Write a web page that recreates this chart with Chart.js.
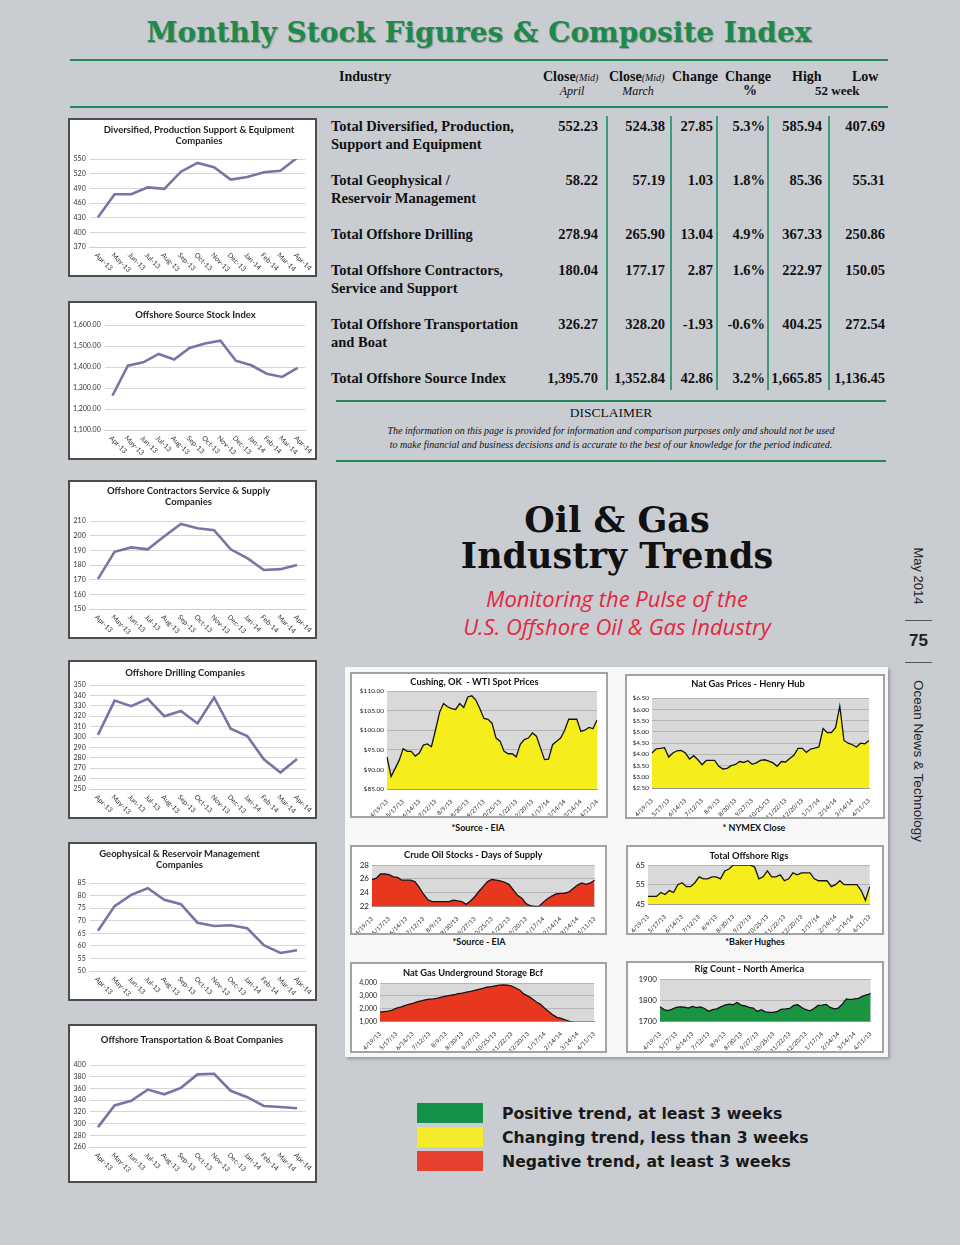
<!DOCTYPE html>
<html>
<head>
<meta charset="utf-8">
<title>Oil &amp; Gas Industry Trends</title>
<script src="https://cdn.jsdelivr.net/npm/chart.js@4.4.1/dist/chart.umd.min.js"></script>
<style>
  body { margin:0; width:960px; height:1245px; background:#c9ccd1; position:relative; overflow:hidden; font-family:'Liberation Serif', serif; color:#111; }
  .a { position:absolute; white-space:nowrap; }
  .rule { position:absolute; background:#23875a; }
  .box { position:absolute; box-sizing:border-box; background:#fff; }
  .lbox { border:2px solid #4d4d4d; }
  .rbox { border:2px solid #a3a3a3; }
  .ltitle { position:absolute; width:300px; text-align:center; font:bold 9.5px/11.4px Lato, sans-serif; color:#1e1e1e; white-space:nowrap; }
  .cap { position:absolute; font:bold 9px Lato, sans-serif; color:#111; transform:translateX(-50%); white-space:nowrap; }
  .hd { position:absolute; font:bold 14px 'Liberation Serif', serif; white-space:nowrap; }
  .hd i { font-weight:normal; font-size:10px; }
  .sub { position:absolute; font:italic 12px 'Liberation Serif', serif; white-space:nowrap; transform:translateX(-50%); }
  .cell { position:absolute; font:bold 14.5px/18px 'Liberation Serif', serif; white-space:nowrap; text-align:right; }
  .name { position:absolute; font:bold 14.5px/18px 'Liberation Serif', serif; white-space:nowrap; }
  .vline { position:absolute; width:1.5px; background:#3a9c78; }
  .side { position:absolute; white-space:nowrap; font:13px 'Liberation Sans', sans-serif; color:#222; transform:translate(-50%,-50%) rotate(90deg); }
  .key { position:absolute; left:417px; width:66px; height:20px; }
  .keyt { position:absolute; left:502px; font:bold 15.7px 'DejaVu Sans', sans-serif; color:#1a1a1a; white-space:nowrap; }
</style>
</head>
<body>

<div class="a" style="left:0;width:958px;top:16px;text-align:center;font:bold 28px 'DejaVu Serif',serif;color:#1d8a4c;text-shadow:1px 1px 1px rgba(0,0,0,.25)">Monthly Stock Figures &amp; Composite Index</div>
<div class="rule" style="left:70px;top:59px;width:818px;height:2px"></div>
<div class="rule" style="left:70px;top:106px;width:818px;height:2px"></div>

<div class="hd" style="left:339px;top:69px">Industry</div>
<div class="hd" style="left:543px;top:69px">Close<i>(Mid)</i></div>
<div class="sub" style="left:572px;top:84px">April</div>
<div class="hd" style="left:609px;top:69px">Close<i>(Mid)</i></div>
<div class="sub" style="left:638px;top:84px">March</div>
<div class="hd" style="left:672px;top:69px">Change</div>
<div class="hd" style="left:725px;top:69px">Change</div>
<div class="hd" style="left:743px;top:83px">%</div>
<div class="hd" style="left:792px;top:69px">High</div>
<div class="hd" style="left:852px;top:69px">Low</div>
<div class="hd" style="left:815px;top:83px;font-size:13px">52 week</div>

<div id="table"></div>

<div class="rule" style="left:336px;top:400px;width:550px;height:2px"></div>
<div class="a" style="left:336px;width:550px;top:405px;text-align:center;font:13.5px 'Liberation Serif',serif">DISCLAIMER</div>
<div class="a" style="left:336px;width:550px;top:424px;text-align:center;font:italic 10px 'Liberation Serif',serif;line-height:14px">The information on this page is provided for information and comparison purposes only and should not be used<br>to make financial and business decisions and is accurate to the best of our knowledge for the period indicated.</div>
<div class="rule" style="left:336px;top:460px;width:550px;height:2px"></div>

<div class="box lbox" style="left:68px;top:118px;width:249px;height:159px"><canvas id="c1"></canvas></div>
<div class="box lbox" style="left:68px;top:301px;width:249px;height:159px"><canvas id="c2"></canvas></div>
<div class="box lbox" style="left:68px;top:480px;width:249px;height:159px"><canvas id="c3"></canvas></div>
<div class="box lbox" style="left:68px;top:660px;width:249px;height:159px"><canvas id="c4"></canvas></div>
<div class="box lbox" style="left:68px;top:842px;width:249px;height:159px"><canvas id="c5"></canvas></div>
<div class="box lbox" style="left:68px;top:1024px;width:249px;height:159px"><canvas id="c6"></canvas></div>

<div class="ltitle" style="left:49px;top:124px">Diversified, Production Support &amp; Equipment<br>Companies</div>
<div class="ltitle" style="left:45.5px;top:309px">Offshore Source Stock Index</div>
<div class="ltitle" style="left:38.5px;top:485px">Offshore Contractors Service &amp; Supply<br>Companies</div>
<div class="ltitle" style="left:35px;top:666.5px">Offshore Drilling Companies</div>
<div class="ltitle" style="left:29.5px;top:848px">Geophysical &amp; Reservoir Management<br>Companies</div>
<div class="ltitle" style="left:42px;top:1034px">Offshore Transportation &amp; Boat Companies</div>

<div class="a" style="left:400px;width:434px;top:502px;text-align:center;font:bold 35px/36px 'DejaVu Serif',serif;color:#111">Oil &amp; Gas<br>Industry Trends</div>
<div class="a" style="left:400px;width:434px;top:584px;text-align:center;font:italic 22px/28px 'Open Sans',sans-serif;color:#e5273d">Monitoring the Pulse of the<br>U.S. Offshore Oil &amp; Gas Industry</div>

<div class="side" style="left:918px;top:576px">May 2014</div>
<div class="a" style="left:905px;top:620px;width:27px;height:1px;background:#555"></div>
<div class="a" style="left:905px;top:631px;width:27px;text-align:center;font:bold 17px 'Liberation Sans',sans-serif;color:#222">75</div>
<div class="a" style="left:905px;top:662px;width:27px;height:1px;background:#555"></div>
<div class="side" style="left:918px;top:761px;font-size:13.5px">Ocean News &amp; Technology</div>

<div class="a" style="left:345px;top:667px;width:543px;height:390px;background:#f7f7f7;box-shadow:2px 2px 3px rgba(0,0,0,.25)"></div>
<div class="box rbox" style="left:350px;top:672px;width:258px;height:146px"><canvas id="r1"></canvas></div>
<div class="box rbox" style="left:625px;top:674px;width:260px;height:145px"><canvas id="r2"></canvas></div>
<div class="cap" style="left:478px;top:822px">*Source - EIA</div>
<div class="cap" style="left:754px;top:822px">* NYMEX Close</div>
<div class="box rbox" style="left:350px;top:845px;width:257px;height:90px"><canvas id="r3"></canvas></div>
<div class="box rbox" style="left:626px;top:845px;width:258px;height:90px"><canvas id="r4"></canvas></div>
<div class="cap" style="left:479px;top:936px">*Source - EIA</div>
<div class="cap" style="left:755px;top:936px">*Baker Hughes</div>
<div class="box rbox" style="left:350px;top:962px;width:257px;height:91px"><canvas id="r5"></canvas></div>
<div class="box rbox" style="left:626px;top:961px;width:258px;height:92px"><canvas id="r6"></canvas></div>

<div class="key" style="top:1103px;background:#13924a"></div>
<div class="key" style="top:1127px;background:#f4ec2b"></div>
<div class="key" style="top:1151px;background:#e8402e"></div>
<div class="keyt" style="top:1104px">Positive trend, at least 3 weeks</div>
<div class="keyt" style="top:1128px">Changing trend, less than 3 weeks</div>
<div class="keyt" style="top:1152px">Negative trend, at least 3 weeks</div>

<script>
// monthly stock index charts (Apr-13 .. Apr-14)
const months = ['Apr-13','May-13','Jun-13','Jul-13','Aug-13','Sep-13','Oct-13','Nov-13','Dec-13','Jan-14','Feb-14','Mar-14','Apr-14'];
const diversified = [431, 478, 478, 492, 489, 524, 542, 533, 508, 513, 523, 526, 552.23];
const sourceIndex = [1263, 1406, 1422, 1462, 1436, 1491, 1512, 1525, 1430, 1408, 1368, 1352.84, 1395.70];
const contractors = [170.5, 189, 192, 190.7, 199.6, 208, 205, 203.7, 190.7, 184.7, 176.6, 177.17, 180.04];
const drilling = [302, 335, 329.7, 336.7, 320, 325, 313, 338, 308, 301, 278.5, 265.9, 278.94];
const geophysical = [66, 75.8, 80.3, 82.9, 78.3, 76.6, 69.2, 67.9, 68.2, 67, 60.3, 57.19, 58.22];
const transport = [294, 331, 339, 358, 350, 361, 384, 385, 356, 345, 330, 328.2, 326.27];

// weekly trend charts
const weekTicks = ['4/19/13','5/17/13','6/14/13','7/12/13','8/9/13','8/30/13','9/27/13','10/25/13','11/22/13','12/20/13','1/17/14','2/14/14','3/14/14','4/11/13'];
const wtiTicks = ['4/19/13','5/17/13','6/14/13','7/12/13','8/9/13','8/30/13','9/27/13','10/25/13','11/22/13','12/20/13','1/17/14','2/14/14','3/14/14','4/11/14'];
const wtiSpot = [93.2,88.2,90.2,92.3,95.3,94.6,94.6,93.4,94.2,96.2,96.5,95.8,100.0,104.5,106.8,106.0,105.5,105.3,106.8,105.8,108.5,108.8,107.7,105.5,103.0,102.8,101.8,98.0,97.2,94.6,94.0,94.0,93.2,96.4,97.6,98.0,99.3,98.5,95.5,92.5,92.6,96.3,97.2,98.0,100.0,102.8,102.8,102.8,99.7,100.0,100.7,100.4,102.6];
const henryHub = [4.06,4.25,4.27,4.30,3.88,4.06,4.16,4.18,4.06,3.79,3.94,3.76,3.54,3.73,3.73,3.73,3.47,3.35,3.38,3.50,3.55,3.68,3.64,3.72,3.56,3.62,3.73,3.76,3.70,3.62,3.47,3.68,3.66,3.82,3.96,4.27,4.27,4.09,4.24,4.28,4.33,5.15,4.97,4.97,5.20,6.15,4.62,4.50,4.43,4.33,4.50,4.47,4.62];
const crudeDays = [25.9,26.1,26.7,26.7,26.6,26.3,26.2,25.8,25.8,25.8,25.6,24.8,23.8,23.0,22.7,22.7,22.7,22.7,22.7,22.9,22.8,22.7,22.3,22.8,23.4,24.2,24.9,25.6,25.9,25.8,25.7,25.5,25.2,24.4,23.6,23.2,22.4,22.1,22.0,22.0,22.6,23.1,23.5,23.8,23.9,23.9,24.1,24.6,25.1,25.4,25.2,25.4,25.8];
const offshoreRigs = [49,49,49,51,50,52,51,55,56,54,54,56,59,58,58,59,59,58,62,63,65,65,65,65,65,64,58,59,62,59,59,60,57,58,61,60,61,61,61,58,57,57,57,54,55,57,55,55,55,55,52,47,54];
const gasStorage = [1720,1775,1800,1880,2040,2120,2230,2340,2420,2525,2610,2690,2740,2770,2820,2900,2980,3040,3090,3170,3220,3300,3360,3440,3520,3600,3680,3730,3790,3840,3870,3840,3760,3620,3440,3140,2980,2770,2520,2340,2040,1780,1510,1320,1240,1130,1000,920,850,830,840,870,900];
const rigCountNA = [1770,1757,1752,1759,1767,1770,1769,1764,1772,1766,1770,1762,1749,1757,1760,1770,1778,1783,1780,1791,1778,1774,1767,1764,1748,1756,1746,1743,1743,1748,1759,1760,1762,1777,1780,1767,1756,1751,1762,1777,1778,1782,1767,1760,1764,1783,1808,1805,1808,1811,1821,1828,1833];

// table
const tableRows = [
  [['Total Diversified, Production,', 'Support and Equipment'], '552.23', '524.38', '27.85', '5.3%', '585.94', '407.69'],
  [['Total Geophysical /', 'Reservoir Management'], '58.22', '57.19', '1.03', '1.8%', '85.36', '55.31'],
  [['Total Offshore Drilling'], '278.94', '265.90', '13.04', '4.9%', '367.33', '250.86'],
  [['Total Offshore Contractors,', 'Service and Support'], '180.04', '177.17', '2.87', '1.6%', '222.97', '150.05'],
  [['Total Offshore Transportation', 'and Boat'], '326.27', '328.20', '-1.93', '-0.6%', '404.25', '272.54'],
  [['Total Offshore Source Index'], '1,395.70', '1,352.84', '42.86', '3.2%', '1,665.85', '1,136.45']
];
const rowY = [126, 180, 234, 270, 324, 378];
const colRight = [598, 665, 713, 765, 822, 885];
const colLines = [606, 670, 716, 767, 828];

let html = '';
tableRows.forEach((r, i) => {
  const top = rowY[i] - 9;
  html += '<div class="name" style="left:331px;top:' + top + 'px">' + r[0].join('<br>') + '</div>';
  for (let c = 1; c < r.length; c++) {
    html += '<div class="cell" style="right:' + (960 - colRight[c - 1]) + 'px;top:' + top + 'px">' + r[c] + '</div>';
  }
});
colLines.forEach(x => { html += '<div class="vline" style="left:' + x + 'px;top:116px;height:274px"></div>'; });
document.getElementById('table').innerHTML = html;

// draws the month labels slanting down to the right, like the excel charts
const slantLabels = {
  id: 'slantLabels',
  afterDraw(chart, args, opts) {
    if (!opts.labels) return;
    const xs = chart.scales.x, ctx = chart.ctx, y0 = chart.chartArea.bottom + 7;
    ctx.save();
    ctx.font = '7px Lato';
    ctx.fillStyle = '#333';
    ctx.textAlign = 'left';
    ctx.textBaseline = 'middle';
    opts.labels.forEach((lab, i) => {
      ctx.save();
      ctx.translate(xs.getPixelForTick(i) - 2, y0);
      ctx.rotate(Math.PI / 4);
      ctx.fillText(lab, 0, 0);
      ctx.restore();
    });
    ctx.restore();
  }
};

const plotBg = {
  id: 'plotBg',
  beforeDraw(chart, args, opts) {
    if (!opts.color) return;
    const a = chart.chartArea;
    chart.ctx.save();
    chart.ctx.fillStyle = opts.color;
    chart.ctx.fillRect(a.left, a.top, a.width, a.height);
    chart.ctx.restore();
  }
};

function lineChart(id, values, y, g) {
  new Chart(document.getElementById(id), {
    type: 'line',
    data: {
      labels: months,
      datasets: [{ data: values, borderColor: '#7a74a6', borderWidth: 2.6, pointRadius: 0, tension: 0 }]
    },
    options: {
      animation: false,
      responsive: true,
      maintainAspectRatio: false,
      layout: { padding: { top: g.top, right: g.right } },
      plugins: {
        legend: { display: false },
        tooltip: { enabled: false },
        slantLabels: { labels: months }
      },
      scales: {
        x: {
          offset: true,
          grid: { display: false },
          border: { color: '#cfcfcf' },
          ticks: { display: false },
          afterFit: s => { s.height = g.xh; }
        },
        y: {
          min: y[0], max: y[1],
          ticks: { stepSize: y[2], autoSkip: false, font: { family: 'Lato', size: 7 }, color: '#333', padding: 4, callback: y[3] },
          grid: { color: '#d6d6d6', drawTicks: false },
          border: { display: false },
          afterFit: s => { s.width = g.yw; }
        }
      }
    },
    plugins: [slantLabels]
  });
}

function areaChart(id, title, ticks, values, fillColor, y, g) {
  const labels = values.map((v, i) => (i % 4 === 0 ? ticks[i / 4] : ''));
  new Chart(document.getElementById(id), {
    type: 'line',
    data: {
      labels: labels,
      datasets: [{ data: values, fill: 'start', backgroundColor: fillColor, borderColor: '#141414', borderWidth: 1.3, pointRadius: 0, tension: 0 }]
    },
    options: {
      animation: false,
      responsive: true,
      maintainAspectRatio: false,
      layout: { padding: { right: g.right } },
      plugins: {
        legend: { display: false },
        tooltip: { enabled: false },
        plotBg: { color: '#d9d9d9' },
        title: {
          display: true, text: title, color: '#111',
          font: { family: 'Lato', size: 9.3, weight: 'bold', lineHeight: 1.2 },
          padding: { top: g.tt, bottom: g.tb }
        }
      },
      scales: {
        x: {
          offset: false,
          grid: { display: false },
          border: { color: '#999' },
          ticks: { autoSkip: false, minRotation: 45, maxRotation: 45, font: { family: 'Lato', size: 6 }, color: '#222', padding: 1 },
          afterFit: s => { s.height = g.xh; }
        },
        y: {
          min: y[0], max: y[1],
          ticks: { stepSize: y[2], autoSkip: false, font: { family: 'Lato', size: g.yf || 6.5 }, color: '#222', padding: 3, callback: y[3] },
          grid: { color: '#b4b4b4', drawTicks: false },
          border: { display: false },
          afterFit: s => { s.width = g.yw; }
        }
      }
    },
    plugins: [plotBg]
  });
}

const money2 = v => v.toLocaleString('en-US', { minimumFractionDigits: 2, maximumFractionDigits: 2 });
const dollars = v => '$' + v.toFixed(2);
const thousands = v => v.toLocaleString('en-US');

lineChart('c1', diversified, [370, 550, 30], { top: 39, yw: 19.7, right: 9.7, xh: 28 });
lineChart('c2', sourceIndex, [1100, 1600, 100, money2], { top: 22, yw: 34.7, right: 9.7, xh: 28 });
lineChart('c3', contractors, [150, 210, 10], { top: 39, yw: 19.7, right: 9.7, xh: 28 });
lineChart('c4', drilling, [250, 350, 10], { top: 23, yw: 19.7, right: 9.7, xh: 28 });
lineChart('c5', geophysical, [50, 85, 5], { top: 39, yw: 19.7, right: 9.7, xh: 28 });
lineChart('c6', transport, [260, 400, 20], { top: 39, yw: 19.7, right: 9.7, xh: 34 });

areaChart('r1', 'Cushing, OK  - WTI Spot Prices', wtiTicks, wtiSpot, '#f6ee1c', [85, 110, 5, dollars], { yw: 35, right: 9, xh: 27, tt: 2.6, tb: 3.3 });
areaChart('r2', 'Nat Gas Prices - Henry Hub', weekTicks, henryHub, '#f6ee1c', [2.5, 6.5, 0.5, dollars], { yw: 25, right: 14, xh: 29, tt: 2.6, tb: 8.6 });
areaChart('r3', 'Crude Oil Stocks - Days of Supply', weekTicks, crudeDays, '#e8361f', [22, 28, 2], { yw: 20, right: 10.4, xh: 26.6, tt: 2.6, tb: 4.3, yf: 8 });
areaChart('r4', 'Total Offshore Rigs', weekTicks, offshoreRigs, '#f6ee1c', [45, 65, 10], { yw: 20, right: 12.3, xh: 28.7, tt: 3.4, tb: 3.5, yf: 8 });
areaChart('r5', 'Nat Gas Underground Storage Bcf', weekTicks, gasStorage, '#e8361f', [1000, 4000, 1000, thousands], { yw: 28, right: 11, xh: 29.6, tt: 3.1, tb: 4.9, yf: 7 });
areaChart('r6', 'Rig Count - North America', weekTicks, rigCountNA, '#1a9440', [1700, 1900, 100], { yw: 32, right: 11.3, xh: 29.6, tt: 0.6, tb: 5, yf: 8 });
</script>
</body>
</html>
